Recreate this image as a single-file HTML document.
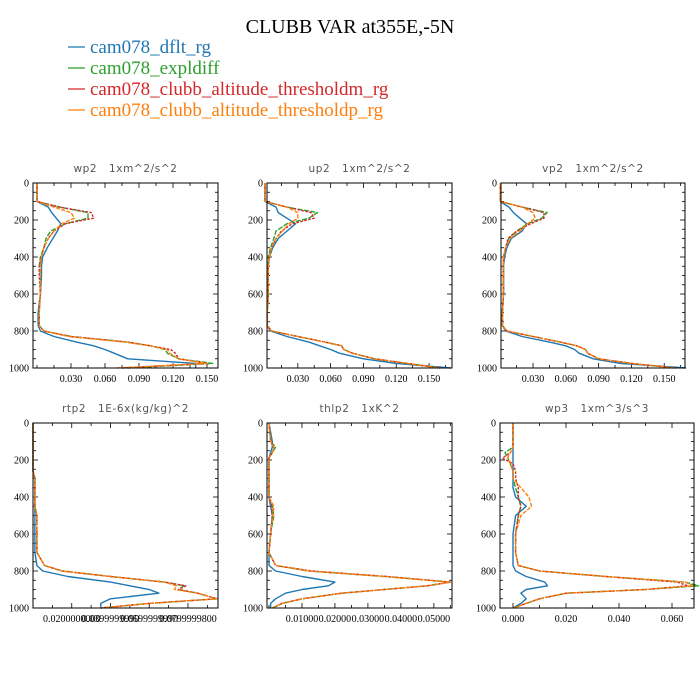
<!DOCTYPE html>
<html><head><meta charset="utf-8"><style>
body{margin:0;background:#fff}
svg{display:block}
.pt{white-space:pre}
</style></head><body>
<svg id="fig" width="700" height="700" xmlns="http://www.w3.org/2000/svg">
<rect width="700" height="700" fill="#fff"/>
<text x="350" y="33" text-anchor="middle" font-family="Liberation Serif, serif" font-size="20">CLUBB VAR at355E,-5N</text>
<g id="legend"></g>
<g id="panels"></g>
</svg>
<script>
const levels = [0,100,130,160,190,220,260,300,350,400,450,500,600,700,770,800,830,860,880,900,920,950,975,1000];
const seriesNames = ["cam078_dflt_rg","cam078_expldiff","cam078_clubb_altitude_thresholdm_rg","cam078_clubb_altitude_thresholdp_rg"];
const colors = ["#1f77b4","#2ca02c","#d62728","#ff7f0e"];
const dashes = ["", "5,1.5", "2.5,1.5", "4,1.5"];

const wp2Blue = [0,0,.010,.013,.017,.021,.018,.014,.009,.005,.004,.004,.003,.001,.001,.003,.015,.035,.05,.06,.068,.08,.14,.14];
const wp2Green = [0,0,.02,.045,.045,.025,.012,.008,.006,.003,.002,.003,.003,.002,.002,.006,.03,.08,.1,.113,.115,.125,.155,.08];
const wp2Red = [0,0,.02,.048,.05,.025,.015,.01,.006,.004,.002,.002,.003,.002,.002,.006,.03,.08,.1,.118,.122,.125,.15,.075];
const wp2Orange = [0,0,.015,.03,.033,.022,.015,.01,.006,.004,.003,.003,.003,.002,.002,.006,.028,.078,.1,.115,.117,.125,.15,.07];

const up2Blue = [0,0,.01,.012,.02,.028,.02,.012,.007,.004,.003,.003,.003,.002,.002,.005,.02,.04,.05,.06,.068,.09,.12,.17];
const up2Green = [0,0,.02,.048,.04,.02,.01,.008,.005,.003,.003,.003,.003,.002,.002,.006,.03,.055,.07,.072,.08,.1,.13,.16];
const up2Red = [0,0,.02,.042,.045,.025,.015,.01,.006,.004,.003,.003,.003,.002,.002,.006,.03,.055,.07,.072,.08,.1,.13,.16];
const up2Orange = [0,0,.02,.03,.03,.022,.016,.01,.006,.004,.003,.003,.003,.002,.002,.006,.03,.055,.07,.072,.08,.1,.13,.16];

const vp2Blue = [0,0,.008,.012,.018,.024,.02,.01,.006,.004,.003,.003,.003,.002,.002,.005,.02,.045,.06,.068,.072,.085,.11,.17];
const vp2Green = [0,0,.02,.043,.038,.025,.015,.008,.005,.003,.003,.003,.003,.002,.002,.006,.03,.055,.07,.078,.08,.09,.12,.16];
const vp2Red = [0,0,.02,.04,.04,.028,.015,.007,.005,.003,.003,.003,.003,.002,.002,.006,.03,.055,.07,.078,.08,.09,.12,.16];
const vp2Orange = [0,0,.02,.03,.032,.025,.018,.009,.005,.003,.003,.003,.003,.002,.002,.006,.03,.055,.07,.078,.08,.09,.12,.16];

const rtp2Blue = [0,0,0,0,0,0,0,.001,.001,.001,.001,.001,.001,.001,.002,.005,.018,.04,.05,.06,.065,.04,.035,.035];
const rtp2Green = [0,0,0,0,0,0,0,.001,.001,.001,.001,.002,.002,.002,.006,.015,.04,.068,.078,.075,.085,.095,.06,.035];
const rtp2Red = [0,0,0,0,0,0,0,.001,.001,.001,.001,.002,.002,.002,.006,.015,.04,.068,.079,.075,.085,.095,.06,.035];
const rtp2Orange = [0,0,0,0,0,0,0,.001,.001,.001,.001,.002,.002,.002,.006,.015,.04,.068,.074,.073,.085,.095,.06,.035];

const thlp2Blue = [0,.001,.001,.0005,0,0,0,0,0,0,.0005,.001,.0005,0,0,.002,.01,.02,.018,.01,.005,.002,.0005,.0005];
const thlp2Green = [0,.0005,.002,.001,0,0,0,0,0,0,.001,.0015,.0005,0,.002,.012,.035,.055,.048,.035,.022,.01,.004,.001];
const thlp2Red = [0,.0005,.0015,.001,0,0,0,0,0,0,.0008,.001,.0005,0,.002,.013,.036,.055,.048,.035,.022,.01,.004,.001];
const thlp2Orange = [0,.0005,.0015,.001,0,0,0,0,0,0,.0015,.0012,.0005,0,.002,.012,.035,.055,.048,.035,.022,.01,.004,.001];

const wp3Blue = [0,0,0,0,0,0,0,0,0,.001,.005,.001,0,0,0,.001,.005,.012,.013,.005,.003,.005,.003,0];
const wp3Green = [0,0,0,-.003,-.002,-.001,0,0,.001,.002,.003,.002,.001,.001,.002,.01,.035,.065,.07,.05,.02,.01,.005,0];
const wp3Red = [0,0,0,-.001,-.004,0,.001,.001,.002,.002,.003,.002,.001,.001,.002,.01,.035,.062,.066,.05,.02,.01,.005,0];
const wp3Orange = [0,0,0,-.001,-.002,-.001,0,0,.003,.006,.007,.003,.001,.001,.002,.01,.035,.065,.068,.05,.02,.01,.005,0];

const yTicks = [0,200,400,600,800,1000];
const ticks3 = [0.03,0.06,0.09,0.12,0.15];
const ticks3Labels = ["0.030","0.060","0.090","0.120","0.150"];
const rtpTicks = [0.02,0.04,0.06,0.08];
const rtpTickLabels = ["0.0200000000","0.0399999990","0.0599999990","0.0799999800"];
const thlTicks = [0.01,0.02,0.03,0.04,0.05];
const thlTickLabels = ["0.01000","0.02000","0.03000","0.04000","0.05000"];
const wp3Ticks = [0,0.02,0.04,0.06];
const wp3TickLabels = ["0.000","0.020","0.040","0.060"];

const panels = [
 {name:"wp2",title:"wp2   1xm^2/s^2",x0:33,x1:218,y0:183,y1:368,dom:[-0.0035,0.1597],ticks:ticks3,labels:ticks3Labels,minor:0.015,data:[wp2Blue,wp2Green,wp2Red,wp2Orange]},
 {name:"up2",title:"up2   1xm^2/s^2",x0:267,x1:452,y0:183,y1:368,dom:[0.0018,0.171],ticks:ticks3,labels:ticks3Labels,minor:0.015,data:[up2Blue,up2Green,up2Red,up2Orange]},
 {name:"vp2",title:"vp2   1xm^2/s^2",x0:501,x1:685,y0:183,y1:368,dom:[0.0007,0.169],ticks:ticks3,labels:ticks3Labels,minor:0.015,data:[vp2Blue,vp2Green,vp2Red,vp2Orange]},
 {name:"rtp2",title:"rtp2   1E-6x(kg/kg)^2",x0:33,x1:218,y0:423,y1:608,dom:[0,0.0955],ticks:rtpTicks,labels:rtpTickLabels,minor:0.01,data:[rtp2Blue,rtp2Green,rtp2Red,rtp2Orange]},
 {name:"thlp2",title:"thlp2   1xK^2",x0:267,x1:452,y0:423,y1:608,dom:[-0.0006,0.0555],ticks:thlTicks,labels:thlTickLabels,minor:0.005,data:[thlp2Blue,thlp2Green,thlp2Red,thlp2Orange]},
 {name:"wp3",title:"wp3   1xm^3/s^3",x0:500,x1:694,y0:423,y1:608,dom:[-0.0049,0.0683],ticks:wp3Ticks,labels:wp3TickLabels,minor:0.01,data:[wp3Blue,wp3Green,wp3Red,wp3Orange]}
];

const NS="http://www.w3.org/2000/svg";
function mk(tag,attrs,parent){const e=document.createElementNS(NS,tag);for(const k in attrs)e.setAttribute(k,attrs[k]);parent.appendChild(e);return e;}

const leg=document.getElementById('legend');
seriesNames.forEach((n,i)=>{
  const y=47+i*21;
  const ln=mk('line',{x1:68,x2:85,y1:y,y2:y,stroke:colors[i],'stroke-width':1.3},leg);
  
  
  const t=mk('text',{x:90,y:y+6,'font-family':'Liberation Serif, serif','font-size':19,fill:colors[i]},leg);
  t.textContent=n;
  
  
});

const root=document.getElementById('panels');
panels.forEach(p=>{
  const g=mk('g',{},root);
  
  
  const xs=v=>p.x0+(v-p.dom[0])/(p.dom[1]-p.dom[0])*(p.x1-p.x0);
  const ys=v=>p.y0+v/1000*(p.y1-p.y0);
  const t=mk('text',{x:(p.x0+p.x1)/2,y:p.y0-11,'text-anchor':'middle','font-family':'DejaVu Sans, sans-serif','font-size':10.5,fill:'#555','letter-spacing':'0.6',class:'pt'},g);
  t.textContent=p.title;
  
  
  for(let v=0;v<=1000;v+=50){
    const major=v%200===0, L=major?5:3, y=ys(v);
    mk('line',{x1:p.x0,x2:p.x0+L,y1:y,y2:y,stroke:'#000','stroke-width':0.8},g);
    mk('line',{x1:p.x1,x2:p.x1-L,y1:y,y2:y,stroke:'#000','stroke-width':0.8},g);
  }
  yTicks.forEach(v=>{
    const tl=mk('text',{x:p.x0-4,y:ys(v)+3.5,'text-anchor':'end','font-family':'Liberation Serif, serif','font-size':10},g);
    tl.textContent=String(v);
    
    
  });
  const start=Math.ceil(p.dom[0]/p.minor);
  for(let k=start;k*p.minor<=p.dom[1];k++){
    const v=k*p.minor, x=xs(v);
    const major=p.ticks.some(tv=>Math.abs(tv-v)<1e-9);
    const L=major?5:3;
    mk('line',{x1:x,x2:x,y1:p.y1,y2:p.y1-L,stroke:'#000','stroke-width':0.8},g);
    mk('line',{x1:x,x2:x,y1:p.y0,y2:p.y0+L,stroke:'#000','stroke-width':0.8},g);
  }
  p.ticks.forEach((v,i)=>{
    const tl=mk('text',{x:xs(v),y:p.y1+14,'text-anchor':'middle','font-family':'Liberation Serif, serif','font-size':10},g);
    tl.textContent=p.labels[i];
    
    
  });
  p.data.forEach((arr,si)=>{
    const pts=arr.map((v,i)=>xs(v).toFixed(1)+','+ys(levels[i]).toFixed(1)).join(' ');
    const pl=mk('polyline',{points:pts,fill:'none',stroke:colors[si],'stroke-width':1.4,'stroke-linejoin':'round'},g);
    if(dashes[si])pl.setAttribute('stroke-dasharray',dashes[si]);
    
    
  });
  const fr=mk('rect',{x:p.x0,y:p.y0,width:p.x1-p.x0,height:p.y1-p.y0,fill:'none',stroke:'#000','stroke-width':1},g);
  
  
});
</script>
</body></html>
